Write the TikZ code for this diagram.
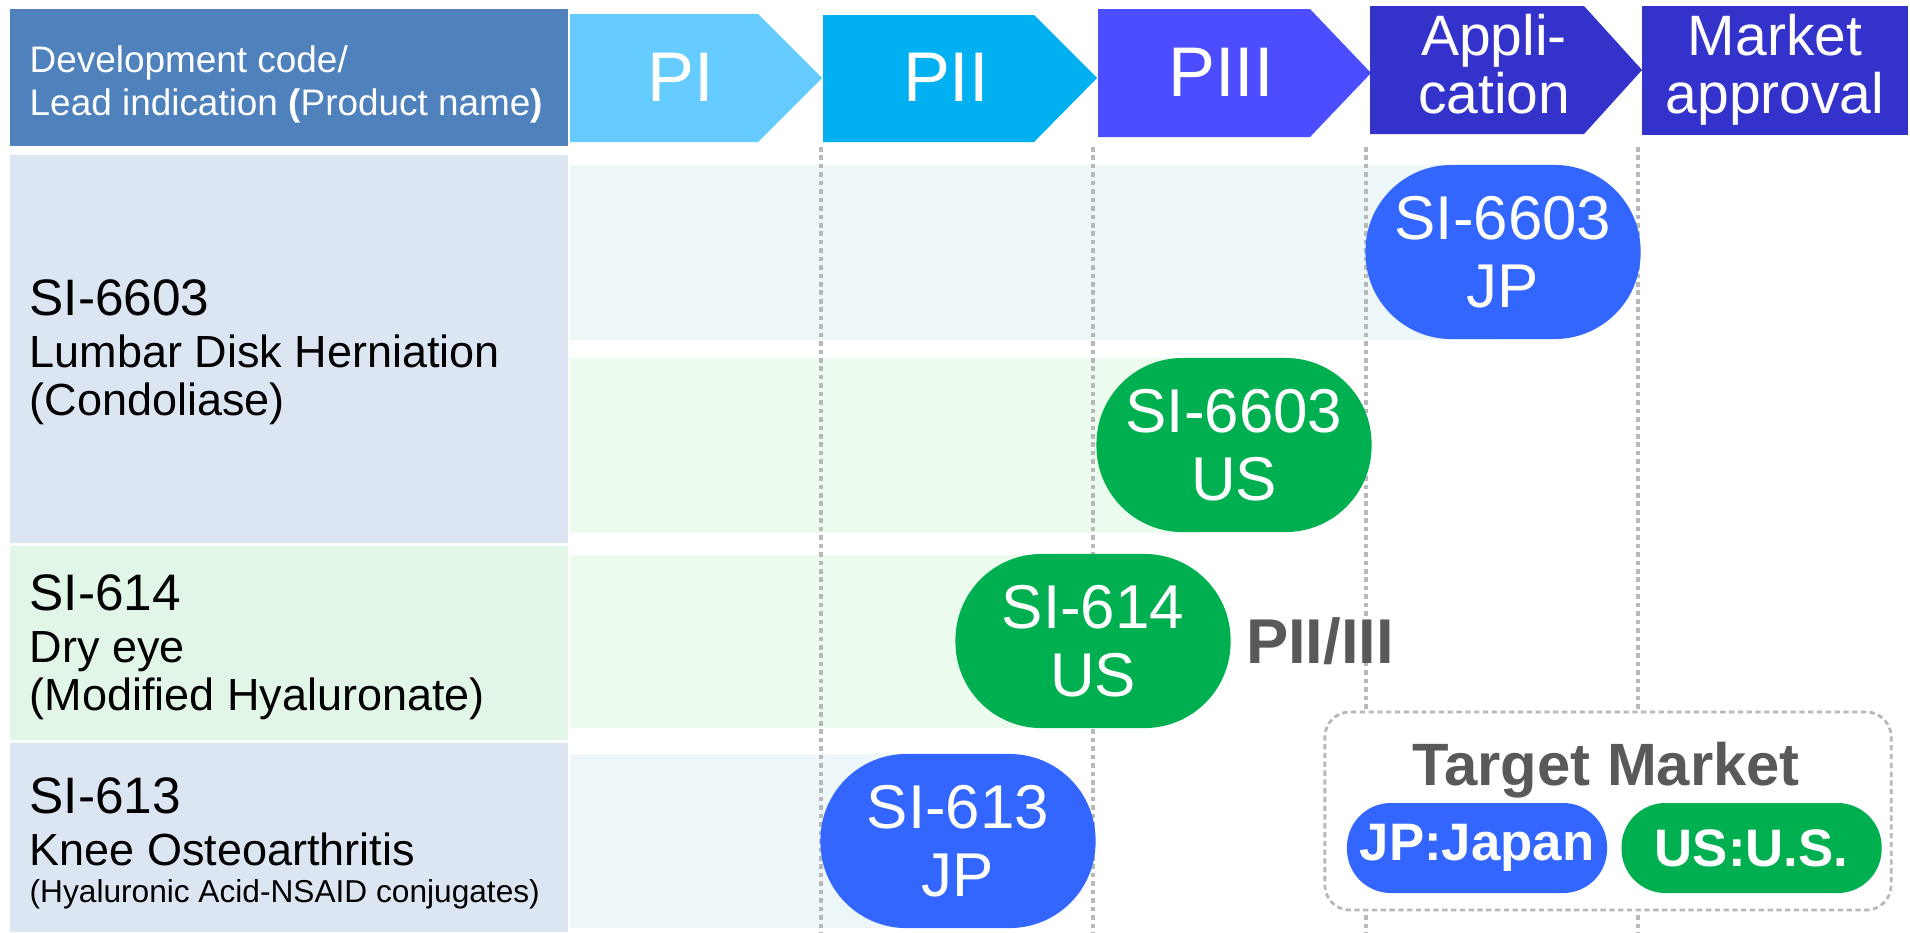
\documentclass[tikz,border=0pt]{standalone}
\usepackage{fontspec}
\setmainfont{Liberation Sans}
\usepackage{xcolor}
\usepackage{tikz}
\usetikzlibrary{positioning}
\definecolor{hdrblue}{HTML}{4F81BD}
\definecolor{phaseone}{HTML}{66CCFF}
\definecolor{phasetwo}{HTML}{00B0F0}
\definecolor{phasethree}{HTML}{4B4DFF}
\definecolor{phasefour}{HTML}{3333CC}
\definecolor{rowblue}{HTML}{DCE6F2}
\definecolor{rowgreen}{HTML}{E1F6E6}
\definecolor{bandblue}{HTML}{EDF6F9}
\definecolor{bandgreen}{HTML}{EBFBEE}
\definecolor{jpblue}{HTML}{3366FF}
\definecolor{usgreen}{HTML}{00B050}
\definecolor{txtgray}{HTML}{595959}
\definecolor{gridgray}{HTML}{B8B8B8}
\tikzset{
    phasetext/.style={text=white, align=center, inner sep=0pt, font=\fontsize{16.2}{16.5}\selectfont},
    phasebig/.style={text=white, inner sep=0pt, font=\fontsize{20}{22}\selectfont},
    hdrtext/.style={anchor=base west, inner sep=0pt, text=white, font=\fontsize{10.5}{12}\selectfont},
    rowcode/.style={anchor=base west, inner sep=0pt, font=\fontsize{14.6}{16}\selectfont},
    rowdesc/.style={anchor=base west, inner sep=0pt, font=\fontsize{12.8}{14}\selectfont},
    rowsmall/.style={anchor=base west, inner sep=0pt, font=\fontsize{9}{10}\selectfont},
    pill/.style={rectangle, rounded corners=0.86cm, minimum width=2.75cm, minimum height=1.74cm, text=white, align=center, inner sep=0pt, font=\fontsize{17.6}{19.4}\selectfont},
    keypill/.style={rectangle, rounded corners=0.44cm, minimum width=2.6cm, minimum height=0.9cm, text=white, inner sep=0pt, font=\bfseries\fontsize{15}{17}\selectfont},
    graytext/.style={inner sep=0pt, text=txtgray, font=\bfseries\fontsize{17}{19}\selectfont},
    gridline/.style={gridgray, line width=1pt, dash pattern=on 1.3pt off 1.1pt}
}
\begin{document}
\begin{tikzpicture}[x=0.01cm, y=-0.01cm]
    \useasboundingbox (0,0) rectangle (1910,932);

    % left column
    \fill[hdrblue] (10,9) rectangle (568,146);
    \fill[rowblue] (10,155) rectangle (568,543);
    \fill[rowgreen] (10,546) rectangle (568,740);
    \fill[rowblue] (10,743) rectangle (568,932);

    % phase arrows
    \fill[phaseone] (570,14) -- (758,14) -- (822,78) -- (758,142) -- (570,142) -- cycle;
    \fill[phasetwo] (823,15) -- (1034,15) -- (1097,78) -- (1034,142) -- (823,142) -- cycle;
    \fill[phasethree] (1098,9) -- (1310,9) -- (1371,73) -- (1310,137) -- (1098,137) -- cycle;
    \fill[phasefour] (1370,6) -- (1584,6) -- (1642,70) -- (1584,134) -- (1370,134) -- cycle;
    \fill[phasefour] (1642,6) rectangle (1908,135);

    % bands
    \fill[bandblue] (570,165) rectangle (1500,340);
    \fill[bandgreen] (570,358) rectangle (1200,533);
    \fill[bandgreen] (570,555) rectangle (1050,728);
    \fill[bandblue] (570,754) rectangle (900,928);

    \foreach \x in {821,1093,1366,1638}
        \draw[gridline] (\x,147) -- (\x,932);

    \node (keybox) [draw=gridgray, line width=0.8pt, dash pattern=on 1.5pt off 1pt, rounded corners=0.25cm, fill=white, minimum width=5.66cm, minimum height=1.98cm] at (1608,811) {};

    % header texts
    \node (hdrone) [hdrtext] at (29,72) {Development code/};
    \node (hdrtwo) [hdrtext] at (29,115) {Lead indication \textbf{(}Product name\textbf{)}};

    \node (phone) [phasebig] at (681,77) {PI};
    \node (phtwo) [phasebig] at (946,77) {PII};
    \node (phthree) [phasebig] at (1221,72) {PIII};
    \node (appl) [phasetext] at (1494,64) {Appli-\\cation};
    \node (mkt) [phasetext] at (1775,70) {Market\\approval};

    % rows
    \node (codea) [rowcode] at (29,315) {SI-6603};
    \node (desca) [rowdesc] at (29,367) {Lumbar Disk Herniation};
    \node (proda) [rowdesc] at (29,415) {(Condoliase)};

    \node (codeb) [rowcode] at (29,610) {SI-614};
    \node (descb) [rowdesc] at (29,662) {Dry eye};
    \node (prodb) [rowdesc] at (29,710) {(Modified Hyaluronate)};

    \node (codec) [rowcode] at (29,813) {SI-613};
    \node (descc) [rowdesc] at (29,865) {Knee Osteoarthritis};
    \node (prodc) [rowsmall] at (29,902) {(Hyaluronic Acid-NSAID conjugates)};

    % status pills
    \node (jpa) [pill, fill=jpblue] at (1503,252) {SI-6603\\JP};
    \node (usa) [pill, fill=usgreen] at (1234,445) {SI-6603\\US};
    \node (usb) [pill, fill=usgreen] at (1093,641) {SI-614\\US};
    \node (jpc) [pill, fill=jpblue] at (958,841) {SI-613\\JP};

    \node (phtwothree) [graytext, font=\bfseries\fontsize{18}{20}\selectfont, right=0.14cm of usb] {PII/III};

    % legend
    \node (keytitle) [graytext, anchor=base] at (1606,785) {Target Market};
    \node (keyjp) [keypill, fill=jpblue] at (1477,848) {JP:Japan};
    \node (keyus) [keypill, fill=usgreen, right=0.13cm of keyjp] {US:U.S.};
\end{tikzpicture}
\end{document}
